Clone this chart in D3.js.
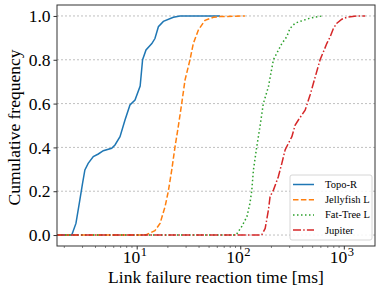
<!DOCTYPE html>
<html>
<head>
<meta charset="utf-8">
<script src="https://cdn.jsdelivr.net/npm/d3@7"></script>
<style>
  body { margin: 0; background: #fff; }
</style>
</head>
<body>
<div id="chart"></div>
<script>
// series: [ms, cumulative frequency]
var topoR = [[1.7, 0], [2.36, 0], [2.59, 0.053], [2.79, 0.145], [3.0, 0.236], [3.16, 0.297], [3.4, 0.327],
    [3.81, 0.358], [4.26, 0.37], [4.76, 0.385], [5.73, 0.396], [6.17, 0.411], [6.9, 0.449], [7.71, 0.525],
    [8.61, 0.594], [9.63, 0.616], [10.8, 0.68], [11.4, 0.8], [12.3, 0.845], [14.0, 0.874], [15.0, 0.897],
    [16.2, 0.951], [18.1, 0.975], [22.6, 0.994], [26.2, 1.0], [64, 1.0]];
var jellyfish = [[1.7, 0], [11.5, 0], [12.5, 0.003], [15.0, 0.02], [16.8, 0.053], [18.8, 0.13], [20.2, 0.2],
    [21.8, 0.297], [23.4, 0.4], [25.2, 0.495], [27.2, 0.6], [29.3, 0.708], [32.7, 0.8], [35.2, 0.874],
    [39.4, 0.936], [45.7, 0.98], [55.0, 0.994], [63.8, 0.997], [111, 1.0]];
var fatTree = [[1.7, 0], [88, 0], [92.5, 0.005], [103, 0.038], [116, 0.084], [124, 0.145], [129, 0.2],
    [134, 0.297], [144, 0.4], [155, 0.495], [167, 0.6], [187, 0.677], [209, 0.8], [252, 0.874],
    [281, 0.905], [303, 0.944], [339, 0.967], [378, 0.975], [473, 0.99], [617, 1.0]];
var jupiter = [[1.7, 0], [161, 0], [174, 0.03], [187, 0.114], [194, 0.175], [209, 0.205], [233, 0.266],
    [252, 0.327], [271, 0.388], [292, 0.419], [315, 0.449], [339, 0.502], [364, 0.525], [423, 0.57],
    [473, 0.64], [528, 0.72], [590, 0.8], [636, 0.837], [686, 0.875], [738, 0.905], [795, 0.944],
    [857, 0.967], [957, 0.985], [1070, 0.994], [1336, 1.0], [1607, 1.0]];

var seriesNames = ["Topo-R", "Jellyfish L", "Fat-Tree L", "Jupiter"];
var seriesData = [topoR, jellyfish, fatTree, jupiter];
var seriesColors = ["#1f77b4", "#ff7f0e", "#2ca02c", "#d62728"];
var seriesDash = [null, "5.5,2.4", "1.5,2.5", "8,2.2,1.5,2.2"];

var yTicks = [0, 0.2, 0.4, 0.6, 0.8, 1.0];
var xTicks = [10, 100, 1000];

var FONT = "'Liberation Serif', 'DejaVu Serif', serif";

var margin = { top: 5, right: 1, bottom: 46, left: 57 };
var width = 376 - margin.left - margin.right,
    height = 292 - margin.top - margin.bottom;

var svg = d3.select("#chart").append("svg")
    .attr("width", 376)
    .attr("height", 292)
    .append("g")
    .attr("transform", "translate(" + margin.left + "," + margin.top + ")");

var x = d3.scaleLog().domain([1.7, 2000]).range([0, width]);
var y = d3.scaleLinear().domain([-0.05, 1.05]).range([height, 0]);

// grid
svg.selectAll(".grid").data(yTicks).enter().append("line")
    .attr("x1", 0).attr("x2", width)
    .attr("y1", function (d) { return y(d); })
    .attr("y2", function (d) { return y(d); })
    .attr("stroke", "#b0b0b0")
    .attr("stroke-width", 0.8)
    .attr("stroke-dasharray", "2,2");

var line = d3.line()
    .x(function (d) { return x(d[0]); })
    .y(function (d) { return y(d[1]); });

svg.append("defs").append("clipPath").attr("id", "clip")
    .append("rect").attr("width", width).attr("height", height);

for (let i = 0; i < seriesData.length; i++) {
    svg.append("path")
        .datum(seriesData[i])
        .attr("clip-path", "url(#clip)")
        .attr("fill", "none")
        .attr("stroke", seriesColors[i])
        .attr("stroke-width", 1.5)
        .attr("stroke-dasharray", seriesDash[i])
        .attr("d", line);
}

// axes
var xAxis = d3.axisBottom(x).tickValues(xTicks).tickSize(3.5).tickFormat("");
var xMinor = [];
[1, 10, 100, 1000].forEach(function (p) {
    for (let k = 2; k <= 9; k++) {
        var v = p * k;
        if (v > 1.7 && v < 2000) xMinor.push(v);
    }
});

var gx = svg.append("g")
    .attr("transform", "translate(0," + height + ")")
    .call(xAxis);
gx.select(".domain").remove();
gx.selectAll(".tick line").attr("stroke", "#333");
gx.selectAll(".minor").data(xMinor).enter().append("line")
    .attr("x1", function (d) { return x(d); })
    .attr("x2", function (d) { return x(d); })
    .attr("y1", 0).attr("y2", 2)
    .attr("stroke", "#333").attr("stroke-width", 0.6);

// x tick labels as 10^n: base and exponent as two texts
gx.selectAll(".xb").data(xTicks).enter().append("text")
    .attr("x", function (d) { return x(d) + 3.5; })
    .attr("y", 16.5)
    .attr("text-anchor", "end")
    .style("font-family", FONT)
    .style("font-size", "17.5px")
    .attr("fill", "#000")
    .text("10");
gx.selectAll(".xe").data(xTicks).enter().append("text")
    .attr("x", function (d) { return x(d) + 4; })
    .attr("y", 9.5)
    .attr("text-anchor", "start")
    .style("font-family", FONT)
    .style("font-size", "12.5px")
    .attr("fill", "#000")
    .text(function (d) { return Math.round(Math.log10(d)); });

var yAxis = d3.axisLeft(y).tickValues(yTicks).tickSize(3.5).tickPadding(3)
    .tickFormat(d3.format(".1f"));
var gy = svg.append("g").call(yAxis);
gy.select(".domain").remove();
gy.selectAll(".tick line").attr("stroke", "#333");
gy.selectAll(".tick text")
    .style("font-family", FONT)
    .style("font-size", "17.5px")
    .attr("fill", "#000");

// frame
svg.append("rect")
    .attr("width", width).attr("height", height)
    .attr("fill", "none").attr("stroke", "#333").attr("stroke-width", 1);

// labels
svg.append("text")
    .attr("x", width / 2 + 0)
    .attr("y", height + 37)
    .attr("text-anchor", "middle")
    .style("font-family", FONT)
    .style("font-size", "17.5px")
    .attr("fill", "#000")
    .text("Link failure reaction time [ms]");

svg.append("text")
    .attr("transform", "translate(" + (-37) + "," + (height / 2 + 2) + ") rotate(-90)")
    .attr("text-anchor", "middle")
    .style("font-family", FONT)
    .style("font-size", "17.5px")
    .attr("fill", "#000")
    .text("Cumulative frequency");

// legend
var lg = svg.append("g").attr("transform", "translate(" + (width - 85) + "," + (height - 71) + ")");
lg.append("rect")
    .attr("width", 82).attr("height", 65)
    .attr("rx", 2)
    .attr("fill", "#fff").attr("fill-opacity", 0.85)
    .attr("stroke", "#ccc").attr("stroke-width", 0.8);
for (let i = 0; i < seriesNames.length; i++) {
    var ly = 9.5 + i * 15.2;
    lg.append("line")
        .attr("x1", 3).attr("x2", 24)
        .attr("y1", ly).attr("y2", ly)
        .attr("stroke", seriesColors[i])
        .attr("stroke-width", 1.5)
        .attr("stroke-dasharray", seriesDash[i]);
    lg.append("text")
        .attr("x", 35).attr("y", ly + 3.5)
        .style("font-family", FONT)
        .style("font-size", "10.5px")
        .attr("fill", "#000")
        .text(seriesNames[i]);
}
</script>
</body>
</html>
